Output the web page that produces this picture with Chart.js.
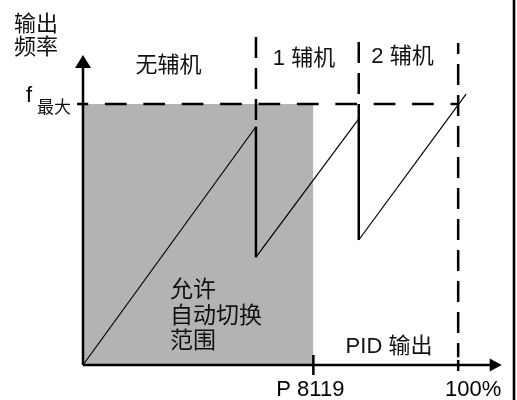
<!DOCTYPE html>
<html>
<head>
<meta charset="utf-8">
<script src="https://cdn.jsdelivr.net/npm/chart.js@4.4.0/dist/chart.umd.min.js"></script>
<style>
    html, body { margin: 0; padding: 0; background: #fff; }
    #wrap { position: relative; width: 517px; height: 400px; }
</style>
</head>
<body>
<div id="wrap"><canvas id="chart" width="517" height="400"></canvas></div>
<script>
// Data (x: PID output in %, y: output frequency in % of f max)
const xTickValues = [61.4, 100];
const xTickLabels = ['P 8119', '100%'];
const fMax = 100;
const sawX = [0, 46.1, 46.1, 73.5, 73.5, 102.1];
const sawY = [0, 91.3, 41.3, 94.3, 47.9, 103.8];
const stageEdges = [46.1, 73.5, 100];
const stageTops = [125.7, 123.8, 123.4];
const stageBottoms = [91.3, 94.3, 3];
const stageLabels = ['无辅机', '1 辅机', '2 辅机'];
const autoRange = [0, 61.4];
const xAxisEnd = 111.6;
const yAxisEnd = 118.8;

const LATIN = "'Liberation Sans', Arial, sans-serif";
const CJK = "'Noto Sans CJK SC', sans-serif";
const MIXED = "'Liberation Sans', 'Noto Sans CJK SC', sans-serif";

function seg(x0, y0, x1, y1) {
    return [{ x: x0, y: y0 }, { x: x1, y: y1 }];
}

function lineSet(data, width, dash, dashOffset) {
    return {
        data: data,
        showLine: true,
        borderColor: '#000',
        borderWidth: width,
        borderDash: dash || [],
        borderDashOffset: dashOffset || 0,
        pointRadius: 0,
        fill: false,
        clip: false
    };
}

const datasets = [];

// sawtooth output frequency, vertical drops are thicker
const saw = lineSet(sawX.map((x, i) => ({ x: x, y: sawY[i] })), 1.2);
saw.segment = {
    borderWidth: ctx => (ctx.p0.parsed.x === ctx.p1.parsed.x ? 2.5 : 1.2)
};
datasets.push(saw);

// axes
datasets.push(lineSet(seg(0, 0, 0, yAxisEnd - 4), 2.5));
datasets.push(lineSet(seg(0, 0, xAxisEnd - 2, 0), 2.6));

// f max dashed line
datasets.push(lineSet(seg(-1.6, fMax, stageEdges[2], fMax), 2.5, [21.7, 16.7], 10.5));

// stage boundaries
stageEdges.forEach((x, i) => {
    datasets.push(lineSet(seg(x, stageTops[i], x, stageBottoms[i]), 2.5, [21, 10], i === 2 ? 10 : 0));
});

// auto switch range (grey block)
datasets.push({
    data: seg(autoRange[0], fMax, autoRange[1], fMax),
    showLine: true,
    borderWidth: 0,
    pointRadius: 0,
    backgroundColor: '#b3b3b3',
    fill: 'origin'
});

// Texts, arrow heads, tick marks
const decorPlugin = {
    id: 'decor',
    afterDatasetsDraw(chart) {
        const c = chart.ctx;
        const xs = chart.scales.x;
        const ys = chart.scales.y;
        const y0 = ys.getPixelForValue(0);
        const x0 = xs.getPixelForValue(0);
        c.save();
        c.fillStyle = '#000';
        c.strokeStyle = '#000';

        // arrow heads
        const xt = xs.getPixelForValue(xAxisEnd);
        c.beginPath();
        c.moveTo(xt, y0);
        c.lineTo(xt - 12, y0 - 6.5);
        c.lineTo(xt - 12, y0 + 6.5);
        c.closePath();
        c.fill();
        const yt = ys.getPixelForValue(yAxisEnd);
        c.beginPath();
        c.moveTo(x0, yt);
        c.lineTo(x0 - 8, yt + 13);
        c.lineTo(x0 + 8, yt + 13);
        c.closePath();
        c.fill();

        // tick marks and tick labels
        c.lineWidth = 2.5;
        const tickUp = [10, 5];
        const tickDown = [10, 6];
        const labelShift = [-3, 15];
        c.font = '22px ' + LATIN;
        c.textAlign = 'center';
        c.textBaseline = 'middle';
        xTickValues.forEach((v, i) => {
            const px = xs.getPixelForValue(v);
            c.beginPath();
            c.moveTo(px, y0 - tickUp[i]);
            c.lineTo(px, y0 + tickDown[i]);
            c.stroke();
            c.fillText(xTickLabels[i], px + labelShift[i], 390);
        });

        // y axis label
        c.fillStyle = '#111';
        c.font = '22px ' + CJK;
        c.textAlign = 'left';
        c.fillText('输出', 14, 23);
        c.fillText('频率', 14, 46);

        // f max label
        c.fillStyle = '#000';
        c.font = '22px ' + LATIN;
        c.textBaseline = 'alphabetic';
        c.fillText('f', 26, 102);
        c.fillStyle = '#111';
        c.font = '17px ' + CJK;
        c.textBaseline = 'middle';
        c.fillText('最大', 37, 107);

        // stage labels
        const stageCx = [168.5, 304, 402.5];
        const stageCy = [66, 59, 57];
        c.textAlign = 'center';
        c.font = '22px ' + MIXED;
        stageLabels.forEach((t, i) => c.fillText(t, stageCx[i], stageCy[i]));

        // range text
        c.textAlign = 'left';
        c.font = '23px ' + CJK;
        c.fillText('允许', 170, 288);
        c.fillText('自动切换', 170, 314);
        c.fillText('范围', 170, 339);

        c.textAlign = 'center';
        c.font = '22px ' + MIXED;
        c.fillText('PID 输出', 389, 347);

        // right frame edge
        c.fillStyle = '#000';
        c.fillRect(512.7, 0, 2.6, 400);
        c.restore();
    }
};

new Chart(document.getElementById('chart'), {
    type: 'scatter',
    data: { datasets: datasets },
    options: {
        responsive: false,
        animation: false,
        devicePixelRatio: 1,
        layout: { padding: { left: 83, right: 15.3, top: 55, bottom: 35 } },
        scales: {
            x: { type: 'linear', display: false, min: 0, max: xAxisEnd },
            y: { type: 'linear', display: false, min: 0, max: yAxisEnd }
        },
        plugins: {
            legend: { display: false },
            tooltip: { enabled: false }
        }
    },
    plugins: [decorPlugin]
});
</script>
</body>
</html>
